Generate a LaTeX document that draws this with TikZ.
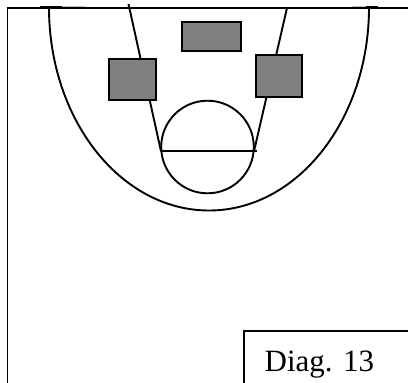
\documentclass[tikz,border=0pt]{standalone}
\usepackage{fontspec}
\setmainfont{Liberation Serif}
\tikzset{
  court/.style={draw=black,line width=1.9pt},
  block/.style={draw=black,line width=2pt,fill=black!50!white,inner sep=0pt,minimum width=#1},
}
\begin{document}
\begin{tikzpicture}[x=1pt,y=-1pt]
\useasboundingbox (0,0) rectangle (408,383);
\coordinate (cornerB) at (7.5,383);
\coordinate (cornerT) at (7.5,7.7);
\coordinate (rightT) at (408,7.7);
\draw[black!25,line width=3pt] (40,7.7) -- (85,7.7);
\draw[black!25,line width=3pt] (352,7.7) -- (378,7.7);
\draw[black,line width=2.6pt] (40,7.5) -- (62,7.5);
\draw[black,line width=2.6pt] (366,7.5) -- (378,7.5);
\draw[court] (cornerB) -- (cornerT) -- (rightT);
% three-point arc
\draw[court] (49,7.5) arc[start angle=180,end angle=360,x radius=160,y radius=-203];
% lane lines
\coordinate (laneLT) at (128.5,4);
\coordinate (laneRT) at (287,8);
\coordinate (laneLB) at (161,151.3);
\coordinate (laneRB) at (254,151.3);
\draw[court] (laneLT) -- (laneLB);
\draw[court] (laneRT) -- (laneRB);
% free throw
\node[court,circle,minimum size=92.6pt,inner sep=0pt] (ft) at (207.5,147) {};
\draw[court] (161,151.3) -- (257,151.3);
% blocks
\node[block=59pt,minimum height=28.5pt] (top) at (211,36.7) {};
\node[block=46.5pt,minimum height=41.5pt] (left) at (132.7,79.7) {};
\node[block=46.5pt,minimum height=42pt] (right) at (279.2,75.5) {};
% label box
\coordinate (bl) at (244,383);
\coordinate (tl) at (244,331);
\coordinate (tr) at (408,331);
\draw[court] (bl) -- (tl) -- (tr);
\node[anchor=base west,inner sep=0pt,font=\fontsize{31}{36}\selectfont] (lab) at (264.5,371) {Diag. 13};
\end{tikzpicture}
\end{document}
